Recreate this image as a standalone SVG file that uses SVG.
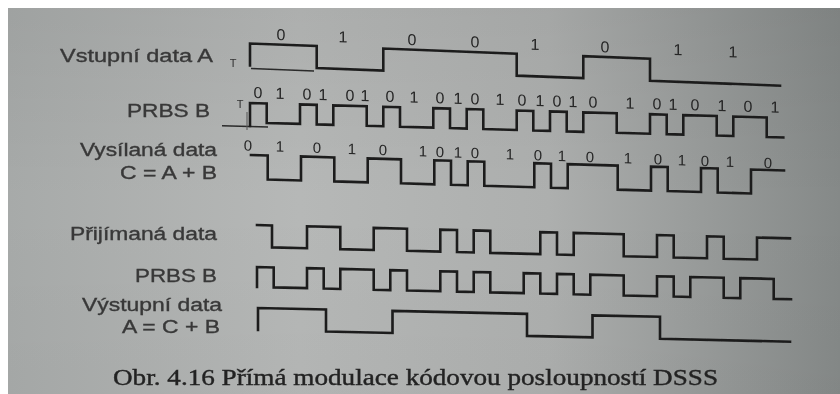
<svg xmlns="http://www.w3.org/2000/svg" width="840" height="394" viewBox="0 0 840 394">
  <defs>
    <linearGradient id="paper" x1="0" y1="0" x2="1" y2="0">
      <stop offset="0" stop-color="#a7aaa9"/>
      <stop offset="0.35" stop-color="#b6b8b7"/>
      <stop offset="0.65" stop-color="#adafae"/>
      <stop offset="1" stop-color="#858988"/>
    </linearGradient>
    <linearGradient id="shade" x1="0" y1="0" x2="0" y2="1">
      <stop offset="0" stop-color="#000" stop-opacity="0.05"/>
      <stop offset="0.5" stop-color="#000" stop-opacity="0"/>
      <stop offset="1" stop-color="#000" stop-opacity="0.02"/>
    </linearGradient>
    <filter id="soft" x="-5%" y="-5%" width="110%" height="110%">
      <feGaussianBlur stdDeviation="0.5"/>
    </filter>
  </defs>
  <style>
    .wave { fill: none; stroke: #1d1d1d; stroke-width: 2.6; stroke-linejoin: miter; stroke-linecap: square; }
    .thin { fill: none; stroke: #2a2a2a; stroke-width: 1.5; }
    .faint { fill: none; stroke: #555; stroke-width: 1; }
    .lbl { font-family: "Liberation Sans", Arial, sans-serif; font-size: 18px; fill: #383838; stroke: #383838; stroke-width: 0.35; }
    .bit { font-family: "Liberation Sans", Arial, sans-serif; font-size: 16px; fill: #262626; text-anchor: middle; }
    .bit3 { font-family: "Liberation Sans", Arial, sans-serif; font-size: 15px; fill: #262626; text-anchor: middle; }
    .tmark { font-family: "Liberation Sans", Arial, sans-serif; font-size: 11px; fill: #333; text-anchor: middle; }
    .cap { font-family: "Liberation Serif", "Times New Roman", serif; font-size: 24px; fill: #222; stroke: #222; stroke-width: 0.4; }
  </style>

  <rect x="0" y="0" width="840" height="394" fill="#ffffff"/>
  <rect x="8" y="8" width="832" height="386" fill="url(#paper)"/>
  <rect x="8" y="8" width="832" height="386" fill="url(#shade)"/>

  <g filter="url(#soft)">
    <!-- Row labels -->
    <g id="labels">
      <text class="lbl" x="60" y="62" textLength="153" lengthAdjust="spacingAndGlyphs">Vstupní data A</text>
      <text class="lbl" x="127" y="117" textLength="83" lengthAdjust="spacingAndGlyphs">PRBS B</text>
      <text class="lbl" x="80" y="156" textLength="137" lengthAdjust="spacingAndGlyphs">Vysílaná data</text>
      <text class="lbl" x="120" y="179" textLength="97" lengthAdjust="spacingAndGlyphs">C = A + B</text>
      <text class="lbl" x="70" y="240" textLength="147" lengthAdjust="spacingAndGlyphs">Přijímaná data</text>
      <text class="lbl" x="135" y="282" textLength="82" lengthAdjust="spacingAndGlyphs">PRBS B</text>
      <text class="lbl" x="82" y="311" textLength="140" lengthAdjust="spacingAndGlyphs">Výstupní data</text>
      <text class="lbl" x="122" y="333" textLength="98" lengthAdjust="spacingAndGlyphs">A = C + B</text>
    </g>

    <!-- Row 1: Vstupní data A -->
    <g id="input-a" transform="matrix(1,0.038,0,1,0,-9.5)">
      <path class="wave" d="M250,65.5 V43.5 H316.7 V65.5 H383.3 V43.5 H516.7 V65.5 H583.3 V43.5 H650 V65.5 H780"/>
      <path class="thin" d="M251,68.5 H314"/>
      <g>
        <text class="bit" x="281" y="39">0</text>
        <text class="bit" x="343" y="39">1</text>
        <text class="bit" x="412" y="39">0</text>
        <text class="bit" x="475" y="39">0</text>
        <text class="bit" x="535" y="39">1</text>
        <text class="bit" x="605" y="39">0</text>
        <text class="bit" x="678" y="39">1</text>
        <text class="bit" x="733" y="39">1</text>
      </g>
    </g>
    <text class="tmark" x="233" y="67">T</text>

    <!-- Row 2: PRBS B -->
    <g id="prbs-b" transform="matrix(1,0.028,0,1,0,-7)">
      <path class="thin" d="M222,126.5 H268"/>
      <path class="wave" d="M250,126 V103 H266.7 V122.5 H300 V103 H316.7 V122.5 H333.3 V103 H366.7 V122.5 H383.3 V103 H400 V122.5 H433.3 V103 H450 V122.5 H466.7 V103 H483.3 V122.5 H516.7 V103 H533.3 V122.5 H550 V103 H566.7 V122.5 H583.3 V103 H616.7 V122.5 H650 V103 H666.7 V122.5 H683.3 V103 H716.7 V122.5 H733.3 V103 H766.7 V122.5 H783.3"/>
      <g>
        <text class="bit" x="258" y="98">0</text>
        <text class="bit" x="280" y="98">1</text>
        <text class="bit" x="307" y="98">0</text>
        <text class="bit" x="323" y="98">1</text>
        <text class="bit" x="350" y="98">0</text>
        <text class="bit" x="365" y="98">1</text>
        <text class="bit" x="390" y="98">0</text>
        <text class="bit" x="414" y="98">1</text>
        <text class="bit" x="440" y="98">0</text>
        <text class="bit" x="458" y="98">1</text>
        <text class="bit" x="475" y="98">0</text>
        <text class="bit" x="500" y="98">1</text>
        <text class="bit" x="522" y="98">0</text>
        <text class="bit" x="540" y="98">1</text>
        <text class="bit" x="557" y="98">0</text>
        <text class="bit" x="573" y="98">1</text>
        <text class="bit" x="593" y="98">0</text>
        <text class="bit" x="630" y="98">1</text>
        <text class="bit" x="657" y="98">0</text>
        <text class="bit" x="673" y="98">1</text>
        <text class="bit" x="695" y="98">0</text>
        <text class="bit" x="722" y="98">1</text>
        <text class="bit" x="748" y="98">0</text>
        <text class="bit" x="775" y="98">1</text>
      </g>
    </g>
    <text class="tmark" x="240" y="108">T</text>
    <path class="faint" d="M247,112 V130"/>

    <!-- Row 3: Vysílaná data C = A + B -->
    <g id="tx-c" transform="matrix(1,0.029,0,1,0,-7.3)">
      <path class="wave" d="M251,155 H267.7 V179 H301 V155 H334.3 V179 H367.7 V155 H401 V179 H434.3 V155 H451 V179 H467.7 V155 H484.3 V179 H534.3 V155 H551 V179 H567.7 V155 H617.7 V179 H651 V155 H667.7 V179 H701 V155 H717.7 V179 H751 V155 H784"/>
    </g>
    <g id="tx-c-bits" transform="matrix(1,0.034,0,1,0,-8.4)">
      <text class="bit3" x="248" y="150.5">0</text>
      <text class="bit3" x="280" y="150.5">1</text>
      <text class="bit3" x="317" y="150.5">0</text>
      <text class="bit3" x="352" y="150.5">1</text>
      <text class="bit3" x="383" y="150.5">0</text>
      <text class="bit3" x="423" y="150.5">1</text>
      <text class="bit3" x="440" y="150.5">0</text>
      <text class="bit3" x="458" y="150.5">1</text>
      <text class="bit3" x="475" y="150.5">0</text>
      <text class="bit3" x="510" y="150.5">1</text>
      <text class="bit3" x="538" y="150.5">0</text>
      <text class="bit3" x="562" y="150.5">1</text>
      <text class="bit3" x="590" y="150.5">0</text>
      <text class="bit3" x="628" y="150.5">1</text>
      <text class="bit3" x="658" y="150.5">0</text>
      <text class="bit3" x="682" y="150.5">1</text>
      <text class="bit3" x="705" y="150.5">0</text>
      <text class="bit3" x="730" y="150.5">1</text>
      <text class="bit3" x="768" y="150.5">0</text>
    </g>

    <!-- Row 4: Přijímaná data -->
    <g id="rx-c" transform="matrix(1,0.025,0,1,0,-6.4)">
      <path class="wave" d="M257,225 H272 V247 H307 V225 H340.3 V247 H373.7 V225 H407 V247 H440.3 V225 H457 V247 H473.7 V225 H490.3 V247 H540.3 V225 H557 V247 H573.7 V225 H623.7 V247 H657 V225 H673.7 V247 H707 V225 H723.7 V247 H757 V225 H790"/>
    </g>

    <!-- Row 5: PRBS B (receiver) -->
    <g id="rx-prbs-b" transform="matrix(1,0.023,0,1,0,-5.9)">
      <path class="wave" d="M257,287 V267 H273.7 V287 H307 V267 H323.7 V287 H340.3 V267 H373.7 V287 H390.3 V267 H407 V287 H440.3 V267 H457 V287 H473.7 V267 H490.3 V287 H523.7 V267 H540.3 V287 H557 V267 H573.7 V287 H590.3 V267 H623.7 V287 H657 V267 H673.7 V287 H690.3 V267 H723.7 V287 H740.3 V267 H773.7 V287 H791"/>
    </g>

    <!-- Row 6: Výstupní data A = C + B -->
    <g id="out-a" transform="matrix(1,0.022,0,1,0,-5.7)">
      <path class="wave" d="M258,330 V308 H326 V330 H392.5 V308 H527 V330 H592.5 V308 H660 V330 H790"/>
    </g>

    <!-- Caption -->
    <g id="caption">
      <text class="cap" x="113" y="385" textLength="605" lengthAdjust="spacingAndGlyphs">Obr. 4.16 Přímá modulace kódovou posloupností DSSS</text>
    </g>

    <g id="connectors"/>
  </g>
</svg>
